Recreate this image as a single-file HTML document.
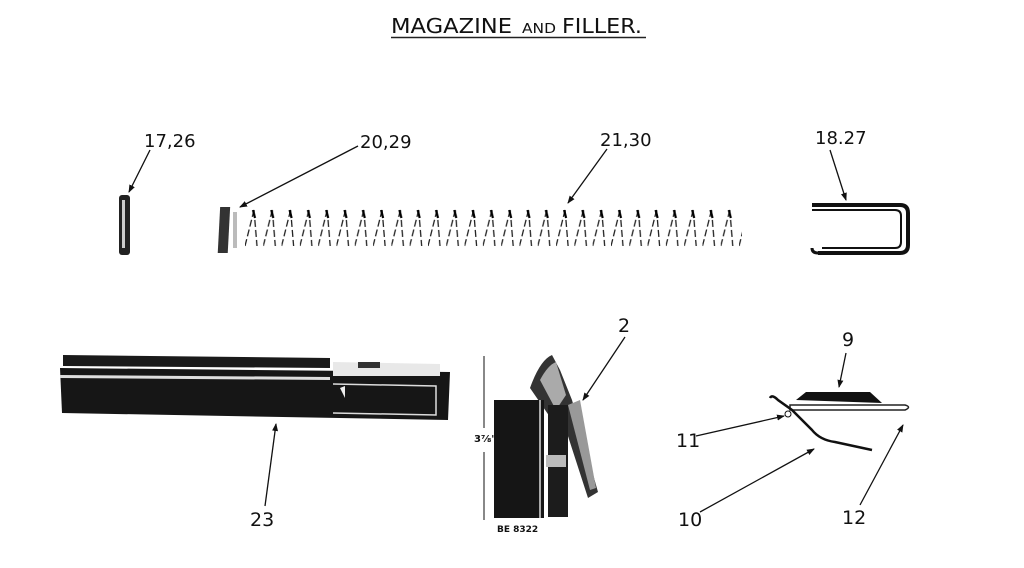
<!DOCTYPE html>
<html><head><meta charset="utf-8"><style>
html,body{margin:0;padding:0;background:#fff;}
svg{display:block;}
text{font-family:"DejaVu Sans","Liberation Sans",sans-serif;fill:#111;}
</style></head><body>
<svg width="1024" height="568" viewBox="0 0 1024 568" xmlns="http://www.w3.org/2000/svg">
<defs>
<marker id="a" markerWidth="8" markerHeight="8" refX="7" refY="4" orient="auto" markerUnits="userSpaceOnUse"><path d="M0,1 L8,4 L0,7 Z" fill="#111"/></marker>
<pattern id="sp" x="245" y="208" width="18.3" height="40" patternUnits="userSpaceOnUse">
<path d="M0,38 L9,2 M9,2 L12,38" stroke="#222" stroke-width="1.3" fill="none" stroke-dasharray="7 3"/>
<path d="M8,2 l2,8" stroke="#000" stroke-width="2.2"/>
</pattern>
</defs>
<!-- title -->
<text x="391" y="33" font-size="20" textLength="121" lengthAdjust="spacingAndGlyphs">MAGAZINE</text>
<text x="522" y="33" font-size="13" textLength="34" lengthAdjust="spacingAndGlyphs">AND</text>
<text x="562" y="33" font-size="20" textLength="80" lengthAdjust="spacingAndGlyphs">FILLER.</text>
<line x1="391" y1="37.5" x2="646" y2="37.5" stroke="#222" stroke-width="1.6"/>

<!-- labels top -->
<text x="144" y="147" font-size="18">17,26</text>
<line x1="150" y1="150" x2="129" y2="192" stroke="#111" stroke-width="1.3" marker-end="url(#a)"/>
<text x="360" y="148" font-size="18">20,29</text>
<line x1="358" y1="146" x2="240" y2="207" stroke="#111" stroke-width="1.3" marker-end="url(#a)"/>
<text x="600" y="146" font-size="18">21,30</text>
<line x1="607" y1="149" x2="568" y2="203" stroke="#111" stroke-width="1.3" marker-end="url(#a)"/>
<text x="815" y="144" font-size="18">18.27</text>
<line x1="830" y1="150" x2="846" y2="200" stroke="#111" stroke-width="1.3" marker-end="url(#a)"/>

<!-- 17,26 -->
<rect x="119" y="195" width="11" height="60" rx="3" fill="#222"/>
<rect x="122" y="200" width="3" height="48" fill="#ccc"/>
<!-- spring -->
<rect x="231" y="207" width="10" height="46" fill="#333" transform="skewX(-3)"/>
<rect x="233" y="212" width="4" height="36" fill="#bbb"/>
<rect x="245" y="208" width="497" height="40" fill="url(#sp)"/>
<!-- 18,27 clip -->
<path d="M812,205 H900 Q908,205 908,213 V245 Q908,253 900,253 H818" fill="none" stroke="#111" stroke-width="4"/>
<path d="M812,210 H895 Q901,210 901,216 V242 Q901,248 895,248 H822" fill="none" stroke="#111" stroke-width="2"/>
<path d="M818,253 Q812,253 812,248" fill="none" stroke="#111" stroke-width="3"/>

<!-- magazine 23 -->
<path d="M63,355 L330,358 L330,368 L63,366 Z" fill="#1a1a1a"/>
<path d="M60,368 L450,372 L448,420 L62,413 Z" fill="#161616"/>
<path d="M60,375 L330,377 L330,380 L60,378Z" fill="#ddd"/>
<path d="M333,362 L440,364 L440,376 L333,376Z" fill="#e8e8e8"/>
<rect x="358" y="362" width="22" height="6" fill="#333"/>
<path d="M333,384 L436,386 L436,415 L333,413" fill="none" stroke="#ddd" stroke-width="1.5"/>
<path d="M340,388 l5,-2 l0,12 z" fill="#eee"/>
<text x="250" y="526" font-size="19">23</text>
<line x1="265" y1="506" x2="276" y2="424" stroke="#111" stroke-width="1.3" marker-end="url(#a)"/>

<!-- filler 2 -->
<line x1="484" y1="356" x2="484" y2="428" stroke="#111" stroke-width="1"/>
<line x1="484" y1="452" x2="484" y2="520" stroke="#111" stroke-width="1"/>
<text x="474" y="442" font-size="10" font-weight="bold">3⅞"</text>
<path d="M530,388 Q540,360 552,355 L560,370 L572,400 L598,492 L588,498 L566,430 L552,420 Z" fill="#333"/>
<path d="M540,380 Q548,365 556,362 L566,395 L556,410 Z" fill="#aaa"/>
<path d="M568,405 L580,400 L596,488 L590,490 Z" fill="#999"/>
<rect x="494" y="400" width="50" height="118" fill="#151515"/>
<line x1="540" y1="400" x2="540" y2="518" stroke="#ddd" stroke-width="1.5"/>
<rect x="548" y="405" width="20" height="112" fill="#1c1c1c"/>
<rect x="546" y="455" width="20" height="12" fill="#bbb"/>
<text x="497" y="532" font-size="9" font-weight="bold">BE 8322</text>
<text x="618" y="332" font-size="19">2</text>
<line x1="625" y1="337" x2="583" y2="400" stroke="#111" stroke-width="1.3" marker-end="url(#a)"/>

<!-- 9,10,11,12 -->
<path d="M796,400 L806,392 L870,392 L882,403 Z" fill="#111"/>
<path d="M790,405 L905,405 Q912,407 905,410 L790,410 Z" fill="none" stroke="#222" stroke-width="1.5"/>
<path d="M770,398 Q772,394 778,400 L792,410 L812,430 Q820,440 835,442 L872,450" fill="none" stroke="#111" stroke-width="2.5"/>
<circle cx="788" cy="414" r="3" fill="none" stroke="#111"/>
<text x="842" y="346" font-size="19">9</text>
<line x1="846" y1="353" x2="839" y2="387" stroke="#111" stroke-width="1.3" marker-end="url(#a)"/>
<text x="676" y="447" font-size="19">11</text>
<line x1="696" y1="436" x2="784" y2="416" stroke="#111" stroke-width="1.3" marker-end="url(#a)"/>
<text x="678" y="526" font-size="19">10</text>
<line x1="700" y1="512" x2="814" y2="449" stroke="#111" stroke-width="1.3" marker-end="url(#a)"/>
<text x="842" y="524" font-size="19">12</text>
<line x1="860" y1="505" x2="903" y2="425" stroke="#111" stroke-width="1.3" marker-end="url(#a)"/>
</svg>
</body></html>
